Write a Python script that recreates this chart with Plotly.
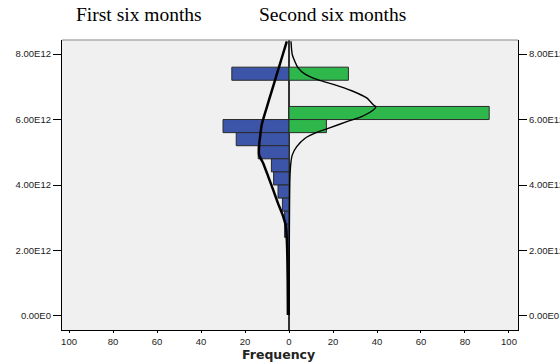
import plotly.graph_objects as go

# ---- data (y in units of 1E12) ----
bin_centers_first = [7.4, 5.8, 5.4, 5.0, 4.6, 4.2, 3.8, 3.4, 3.0, 2.6, 2.2]
freq_first = [26, 30, 24, 14, 8, 7, 5, 3, 2, 2, 1]

bin_centers_second = [7.4, 6.2, 5.8]
freq_second = [27, 91, 17]

bin_width = 0.4

# normal curves
curve_first_y = [8.39, 7.88, 7.37, 6.86, 6.35, 5.84, 5.44, 5.27, 4.92, 4.66, 4.25, 3.85, 3.44, 3.03, 2.73, 2.17, 1.10, 0.03]
curve_first_x = [1.0, 3.3, 5.6, 7.9, 10.2, 12.4, 13.2, 13.5, 13.6, 11.7, 9.4, 7.2, 5.0, 2.6, 1.4, 0.9, 0.6, 0.5]

curve_second_y = [8.39, 7.98, 7.57, 7.39, 7.21, 7.06, 6.88, 6.66, 6.45, 6.39, 6.29, 6.09, 5.95, 5.73, 5.61, 5.43, 5.17, 4.92, 4.71, 4.2, 3.0, 1.5, 0.03]
curve_second_x = [0.9, 1.5, 4.2, 7.3, 13.3, 20.9, 28.5, 35.3, 38.3, 39.5, 38.3, 33.0, 26.9, 17.8, 12.6, 7.3, 3.5, 1.5, 0.9, 0.4, 0.2, 0.1, 0.1]

x_tickvals = [-100, -80, -60, -40, -20, 0, 20, 40, 60, 80, 100]
x_ticktext = ["100", "80", "60", "40", "20", "0", "20", "40", "60", "80", "100"]
y_tickvals = [0, 2, 4, 6, 8]
y_ticktext = ["0.00E0", "2.00E12", "4.00E12", "6.00E12", "8.00E12"]

titles = ["First six months", "Second six months"]
x_title = "Frequency"

BLUE = "#3D55A8"
GREEN = "#2EB84B"
OUTLINE = "#2a2a2a"

fig = go.Figure()

fig.add_trace(go.Bar(
    x=[-f for f in freq_first], y=bin_centers_first, orientation="h",
    width=bin_width, base=0, marker=dict(color=BLUE, line=dict(color=OUTLINE, width=1)),
    showlegend=False))
fig.add_trace(go.Bar(
    x=freq_second, y=bin_centers_second, orientation="h",
    width=bin_width, base=0, marker=dict(color=GREEN, line=dict(color=OUTLINE, width=1)),
    showlegend=False))

fig.add_trace(go.Scatter(
    x=[-v for v in curve_first_x], y=curve_first_y, mode="lines",
    line=dict(color="black", width=2.5, shape="spline", smoothing=0.6), showlegend=False))
fig.add_trace(go.Scatter(
    x=curve_second_x, y=curve_second_y, mode="lines",
    line=dict(color="black", width=1.4, shape="spline", smoothing=0.6), showlegend=False))

# invisible trace for right axis
fig.add_trace(go.Scatter(x=[0], y=[0], yaxis="y2", mode="markers",
                         marker=dict(opacity=0), showlegend=False, hoverinfo="skip"))

yrange = [-0.43, 8.43]
tickfont = dict(family="Liberation Sans, Arial, sans-serif", size=9.5, color="#222")

fig.update_layout(
    width=560, height=363,
    margin=dict(l=62, r=42, t=40, b=33, autoexpand=False),
    paper_bgcolor="white", plot_bgcolor="#F0F0F0",
    barmode="overlay",
    xaxis=dict(range=[-103.2, 104.1], tickvals=x_tickvals, ticktext=x_ticktext,
               showgrid=False, zeroline=True, zerolinecolor="#333", zerolinewidth=1.5,
               showline=True, linecolor="black", linewidth=1.2, mirror=False,
               ticks="outside", ticklen=2, tickcolor="black", tickfont=tickfont,
               automargin=False),
    yaxis=dict(range=yrange, tickvals=y_tickvals, ticktext=y_ticktext,
               showgrid=False, zeroline=False,
               showline=True, linecolor="black", linewidth=1.2,
               ticks="outside", ticklen=8, tickcolor="black", tickfont=tickfont,
               automargin=False),
    yaxis2=dict(range=yrange, tickvals=y_tickvals, ticktext=y_ticktext,
                overlaying="y", side="right", showgrid=False, zeroline=False,
                showline=True, linecolor="black", linewidth=1.2,
                ticks="outside", ticklen=8, tickcolor="black", tickfont=tickfont,
                automargin=False),
    shapes=[dict(type="line", xref="paper", yref="paper", x0=0, x1=1, y0=1, y1=1,
                 line=dict(color="#888", width=1.2))],
    annotations=[
        dict(text=titles[0], xref="paper", yref="paper", x=0.169, y=1.088,
             showarrow=False, xanchor="center", yanchor="middle",
             font=dict(family="Liberation Serif, Times New Roman, serif", size=19.5, color="black")),
        dict(text=titles[1], xref="paper", yref="paper", x=0.594, y=1.088,
             showarrow=False, xanchor="center", yanchor="middle",
             font=dict(family="Liberation Serif, Times New Roman, serif", size=19.5, color="black")),
        dict(text="<b>" + x_title + "</b>", xref="paper", yref="paper", x=0.474, y=-0.086,
             showarrow=False, xanchor="center", yanchor="middle",
             font=dict(family="DejaVu Sans, Arial, sans-serif", size=12.5, color="#222")),
    ],
)

fig.write_html("out.html", config={"displayModeBar": False},
               post_script="document.body.style.margin='0px';document.body.style.overflow='hidden';")
